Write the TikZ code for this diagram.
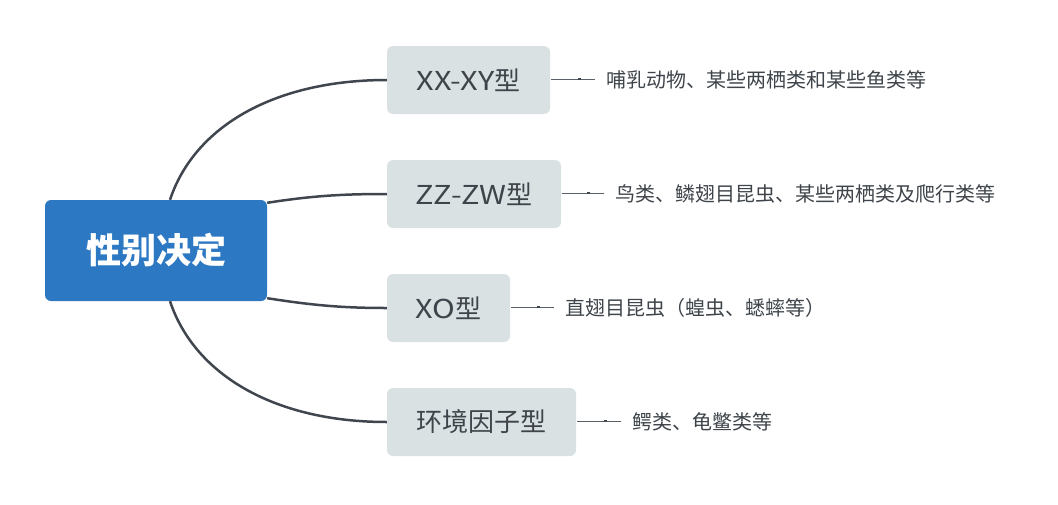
\documentclass[tikz,border=0pt]{standalone}
\usepackage{fontspec}
\setmainfont{Noto Sans CJK SC}
\newfontfamily\widelatin[FakeStretch=1.18]{Noto Sans CJK SC}
\usetikzlibrary{calc}
\definecolor{mainblue}{HTML}{2C78C3}
\definecolor{boxgray}{HTML}{DAE1E3}
\definecolor{txtgray}{HTML}{3E444A}
\definecolor{linegray}{HTML}{40464E}
\definecolor{ticklight}{HTML}{5A6067}
\tikzset{
  centerbox/.style={fill=mainblue, rounded corners=6pt, minimum width=222pt, minimum height=101pt, text=white, font=\fontsize{35}{40}\selectfont\bfseries, inner sep=0pt},
  branchbox/.style={fill=boxgray, rounded corners=6pt, minimum height=68pt, text=txtgray, font=\fontsize{26}{30}\selectfont, inner sep=0pt},
  labeltext/.style={anchor=west, text=txtgray, font=\fontsize{20}{24}\selectfont, inner sep=0pt},
  conn/.style={draw=linegray, line width=2.5pt},
  tick/.style={draw=ticklight, line width=1pt},
}
\begin{document}
\begin{tikzpicture}[x=1pt, y=-1pt]
\useasboundingbox (0,0) rectangle (1058,504);
\node[centerbox] (c) at (156,250.5) {性别决定};
\node[branchbox, minimum width=163pt] (b1) at (468.5,80) {{\widelatin XX-XY}型};
\node[branchbox, minimum width=174pt] (b2) at (474,194) {{\widelatin ZZ-ZW}型};
\node[branchbox, minimum width=123pt] (b3) at (448.5,308) {{\widelatin XO}型};
\node[branchbox, minimum width=189pt] (b4) at (481.5,422) {环境因子型};
% connectors
\coordinate (s1) at ($(c.north)+(14,0)$);
\coordinate (s4) at ($(c.south)+(14,0)$);
\coordinate (s2) at ($(c.north east)+(0,3)$);
\coordinate (s3) at ($(c.south east)+(0,-3)$);
\draw[conn] (s1) .. controls ($(s1)+(25,-75)$) and ($(b1.west)+(-110,0)$) .. (b1.west);
\draw[conn] (s2) .. controls ($(s2)+(45,-7)$) and ($(b2.west)+(-45,0)$) .. (b2.west);
\draw[conn] (s3) .. controls ($(s3)+(45,7)$) and ($(b3.west)+(-45,0)$) .. (b3.west);
\draw[conn] (s4) .. controls ($(s4)+(25,75)$) and ($(b4.west)+(-110,0)$) .. (b4.west);
% labels
\node[labeltext] (l1) at (606,80) {哺乳动物、某些两栖类和某些鱼类等};
\node[labeltext] (l2) at (615,194) {鸟类、鳞翅目昆虫、某些两栖类及爬行类等};
\node[labeltext] (l3) at (565,308) {直翅目昆虫（蝗虫、蟋蟀等）};
\node[labeltext] (l4) at (632,422) {鳄类、龟鳖类等};
\foreach \b/\l in {b1/l1, b2/l2, b3/l3, b4/l4}{
  \draw[tick] ($(\b.east)+(1,-1)$) -- ($(\l.west)+(-11,-1)$);
  \draw[draw=linegray, line width=1.6pt] ($(\l.west)+(-28,-1)$) -- ($(\l.west)+(-25,-1)$);
}
\end{tikzpicture}
\end{document}
